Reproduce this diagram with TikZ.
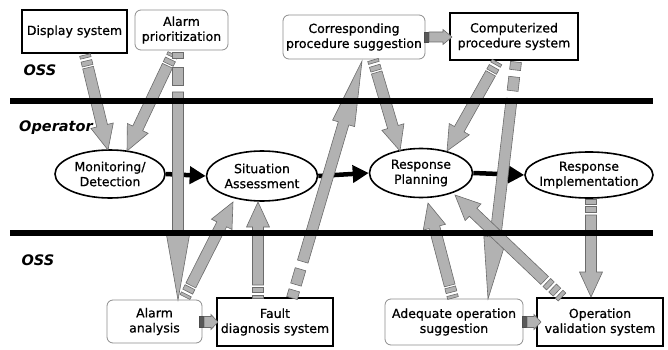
\documentclass[tikz,border=0pt]{standalone}
\usepackage{fontspec}
\setmainfont{DejaVu Sans}
\newfontfamily\boxfont{DejaVu Sans}[FakeBold=0.7]
\usetikzlibrary{shapes.geometric,arrows.meta,calc}
\newcommand\boxtext{\boxfont\fontsize{12.5}{15}\selectfont}
\newcommand\sidetext{\fontsize{14.5}{17}\selectfont\bfseries\itshape}
\tikzset{
  sysbox/.style={draw=black, line width=1.6pt, inner sep=0pt, align=center, font=\boxtext},
  sugbox/.style={draw=black!45, line width=0.8pt, rounded corners=6pt, inner sep=0pt, align=center, font=\boxtext},
  phase/.style={draw=black, line width=1.6pt, ellipse, inner sep=0pt},
  phasetext/.style={align=center, font=\boxtext, inner sep=0pt},
  side/.style={font=\sidetext, inner sep=0pt},
  flow/.style={line width=4.5pt, -{Triangle[length=16pt,width=17pt]}},
  fatstyle/.style={fill=black!30, draw=black!58, line width=0.6pt},
  fatdark/.style={fill=black!65, draw=black!70, line width=0.6pt},
  sep/.style={line width=5.5pt},
}
% #1 dash style, #2 tail, #3 tip, #4 head length, #5 head half width,
% #6 shaft half width, #7 dash list, #8 shaft start
\newcommand\fatarrow[8][fatstyle]{%
  \pgfpointdiff{\pgfpointanchor{#2}{center}}{\pgfpointanchor{#3}{center}}%
  \pgfgetlastxy{\faDX}{\faDY}%
  \pgfmathsetmacro\faAng{atan2(\faDY,\faDX)}%
  \pgfmathsetmacro\faLen{veclen(\faDX,\faDY)}%
  \pgfmathsetmacro\faHB{\faLen-#4}%
  \begin{scope}[shift={(#2)}, rotate=\faAng]
    \foreach \da/\db in {#7}{\filldraw[#1] (\da pt,-#6pt) rectangle (\db pt,#6pt);}
    \filldraw[fatstyle] (#8pt,-#6pt) -- (\faHB pt,-#6pt) -- (\faHB pt,-#5pt)
      -- (\faLen pt,0pt) -- (\faHB pt,#5pt) -- (\faHB pt,#6pt) -- (#8pt,#6pt) -- cycle;
  \end{scope}}
\begin{document}
\begin{tikzpicture}[x=1pt,y=-1pt]
\useasboundingbox (0,0) rectangle (668,350);
% side labels
\node[side] (oss1) at (40,70) {OSS};
\node[side] (oper) at (56,128) {Operator};
\node[side] (oss2) at (38,260) {OSS};
% phases
\node[phase, minimum width=110pt, minimum height=48pt] (mon) at (110,174) {};
\node[phasetext] (mont) at (mon) {Monitoring/\\Detection};
\node[phase, minimum width=111pt, minimum height=50pt] (sa) at (262,176) {};
\node[phasetext] (sat) at (sa) {Situation\\Assessment};
\node[phase, minimum width=103pt, minimum height=49pt] (rp) at (421,173) {};
\node[phasetext] (rpt) at (rp) {Response\\Planning};
\node[phase, minimum width=128pt, minimum height=46pt] (ri) at (589,175) {};
\node[phasetext] (rit) at (ri) {Response\\Implementation};
% flow arrows
\draw[flow] (mon.east) -- (sa.west);
\draw[flow] (sa.east) -- (rp.west);
\draw[flow] (rp.east) -- (ri.west);
% OSS boxes
\node[sysbox, minimum width=105pt, minimum height=43pt] (disp) at (74.5,31.5) {Display system};
\node[sugbox, minimum width=93pt, minimum height=40pt] (prio) at (181.5,30) {Alarm\\prioritization};
\node[sugbox, minimum width=142pt, minimum height=44pt] (corr) at (354,37) {Corresponding\\procedure suggestion};
\node[sysbox, minimum width=128pt, minimum height=47pt] (comp) at (514,36.5) {Computerized\\procedure system};
\node[sugbox, minimum width=95pt, minimum height=43pt] (aana) at (154.5,321.5) {Alarm\\analysis};
\node[sysbox, minimum width=116pt, minimum height=48pt] (fault) at (275,322) {Fault\\diagnosis system};
\node[sugbox, minimum width=138pt, minimum height=46pt] (adeq) at (454,322) {Adequate operation\\suggestion};
\node[sysbox, minimum width=126pt, minimum height=48pt] (opval) at (600,322) {Operation\\validation system};
% connector ends
\coordinate (a1t) at (85,55);   \coordinate (a1h) at (108,150);
\coordinate (a2t) at (173,54);  \coordinate (a2h) at (127,151);
\coordinate (a3t) at (178,52);  \coordinate (a3h) at (178,300);
\coordinate (a4t) at (185,297); \coordinate (a4h) at (233,202);
\coordinate (a5t) at (258,298); \coordinate (a5h) at (258,202);
\coordinate (a6t) at (292,298); \coordinate (a6h) at (362,61);
\coordinate (a7t) at (373,60);  \coordinate (a7h) at (400,151);
\coordinate (a8t) at (497,62);  \coordinate (a8h) at (447,151);
\coordinate (a9t) at (516,62);  \coordinate (a9h) at (488,299);
\coordinate (a10t) at (453,298); \coordinate (a10h) at (428,203);
\coordinate (a11t) at (562,297); \coordinate (a11h) at (455,195);
\coordinate (a12t) at (591,199); \coordinate (a12h) at (591,297);
\coordinate (a13t) at (424,37);  \coordinate (a13h) at (452,37);
\coordinate (a14t) at (199,322); \coordinate (a14h) at (218,322);
\coordinate (a15t) at (522,322); \coordinate (a15h) at (541,322);
% gray connectors
\fatarrow{a1t}{a1h}{25}{11.5}{5.5}{0/3,6/11}{13}
\fatarrow{a2t}{a2h}{25}{11.5}{5.5}{0/3,6/11}{13}
\fatarrow{a3t}{a3h}{65}{11.5}{5.5}{0/6,15/33}{40}
\fatarrow{a4t}{a4h}{25}{11.5}{5.5}{0/3,6/11}{13}
\fatarrow{a5t}{a5h}{25}{11.5}{5.5}{0/3,6/11}{13}
\fatarrow{a6t}{a6h}{65}{11.5}{5.5}{0/8,14/30}{38}
\fatarrow{a7t}{a7h}{25}{11.5}{5.5}{0/3,6/11}{13}
\fatarrow{a8t}{a8h}{25}{11.5}{5.5}{0/3,6/11}{13}
\fatarrow{a9t}{a9h}{62}{11.5}{5.5}{0/8,15/29}{37}
\fatarrow{a10t}{a10h}{25}{11.5}{5.5}{0/3,6/11}{13}
\fatarrow{a11t}{a11h}{25}{11.5}{5.5}{0/4,7/13,16/21}{24}
\fatarrow{a12t}{a12h}{25}{11.5}{5.5}{0/5,7/13}{16}
\fatarrow[fatdark]{a13t}{a13h}{9}{7.5}{5}{0/4}{5}
\fatarrow[fatdark]{a14t}{a14h}{7}{7.5}{5.5}{0/4}{5}
\fatarrow[fatdark]{a15t}{a15h}{7}{7.5}{5.5}{0/4}{5}
% separators
\coordinate (s1a) at (10,101); \coordinate (s1b) at (653,101);
\coordinate (s2a) at (10,233); \coordinate (s2b) at (653,233);
\draw[sep] (s1a) -- (s1b);
\draw[sep] (s2a) -- (s2b);
\end{tikzpicture}
\end{document}
